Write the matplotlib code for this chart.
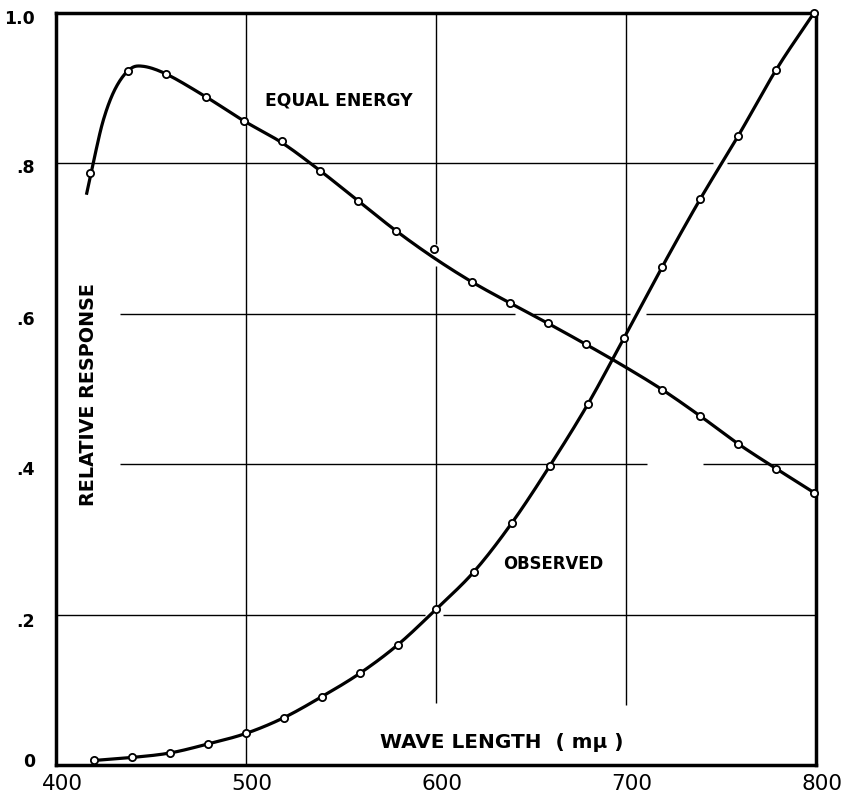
import numpy as np
import matplotlib
matplotlib.use("Agg")
import matplotlib.pyplot as plt
from matplotlib import font_manager
from matplotlib.transforms import ScaledTranslation

# ---------------- data ----------------
wl_equal = [418, 438, 458, 479, 499, 519, 539, 559, 579, 599,
            619, 639, 659, 679, 719, 739, 759, 779, 799]
resp_equal = [0.787, 0.923, 0.9185, 0.888, 0.856, 0.829, 0.790, 0.750, 0.710, 0.686,
              0.642, 0.614, 0.587, 0.559, 0.499, 0.464, 0.427, 0.394, 0.362]

# the drawn (faired) equal-energy curve, read along the line itself
wl_equal_curve = [416, 420, 425, 431, 438, 445, 458, 479, 499, 519, 539, 559, 579,
                  599, 619, 639, 659, 679, 699, 719, 739, 759, 779, 799]
resp_equal_curve = [0.758, 0.805, 0.858, 0.898, 0.923, 0.929, 0.9185, 0.888, 0.856,
                    0.827, 0.790, 0.750, 0.710, 0.674, 0.642, 0.614, 0.587, 0.559,
                    0.530, 0.499, 0.464, 0.427, 0.394, 0.362]

wl_observed = [420, 440, 460, 480, 500, 520, 540, 560, 580, 600,
               620, 640, 660, 680, 699, 719, 739, 759, 779, 799]
resp_observed = [0.006, 0.010, 0.016, 0.028, 0.042, 0.063, 0.091, 0.122, 0.160, 0.207,
                 0.257, 0.322, 0.398, 0.480, 0.568, 0.662, 0.752, 0.836, 0.924, 1.000]

x_ticks = [400, 500, 600, 700, 800]
x_tick_labels = ["400", "500", "600", "700", "800"]
y_ticks = [0, 0.2, 0.4, 0.6, 0.8, 1.0]
y_tick_labels = ["0", ".2", ".4", ".6", ".8", "1.0"]

label_equal = "EQUAL ENERGY"
label_observed = "OBSERVED"
x_title = "WAVE LENGTH  ( m\u03bc )"
y_title = "RELATIVE RESPONSE"


def catmull_rom(x, y, n=16):
    p = np.column_stack([np.asarray(x, float), np.asarray(y, float)])
    ext = np.vstack([2 * p[0] - p[1], p, 2 * p[-1] - p[-2]])
    t = np.linspace(0, 1, n, endpoint=False)[:, None]
    out = []
    for i in range(1, len(ext) - 2):
        p0, p1, p2, p3 = ext[i - 1], ext[i], ext[i + 1], ext[i + 2]
        out.append(0.5 * (2 * p1 + (-p0 + p2) * t
                          + (2 * p0 - 5 * p1 + 4 * p2 - p3) * t ** 2
                          + (-p0 + 3 * p1 - 3 * p2 + p3) * t ** 3))
    out.append(p[-1:])
    pts = np.vstack(out)
    return pts[:, 0], pts[:, 1]


plt.rcParams["font.family"] = ["DejaVu Sans"]
W, H = 850, 794
fig = plt.figure(figsize=(W / 100, H / 100), dpi=100)
ax = fig.add_axes([56 / W, 29 / H, 760 / W, 752.3 / H])
ax.set_xlim(400, 800)
ax.set_ylim(0, 1.0)

# ---------------- hand-drafted grid (with its breaks) ----------------
grid_h = {0.2: [(400, 594), (603.5, 800)],
          0.4: [(433.7, 711), (740.5, 800)],
          0.6: [(433.7, 641.6), (651, 702), (710.5, 800)],
          0.8: [(400, 745.8), (753.2, 800)]}
grid_v = {500: [(0.0, 1.0)],
          600: [(0.0824, 0.663), (0.693, 1.0)],
          700: [(0.0797, 1.0)]}
for yv, segs in grid_h.items():
    for a, b in segs:
        ax.hlines(yv, a, b, color="black", lw=1.0, zorder=1)
for xv, segs in grid_v.items():
    for a, b in segs:
        ax.vlines(xv, a, b, color="black", lw=1.0, zorder=1)

# ---------------- curves ----------------
cx, cy = catmull_rom(wl_equal_curve, resp_equal_curve)
ax.plot(cx, cy, color="black", lw=2.3, zorder=3, clip_on=False,
        solid_capstyle="butt")
ax.plot(wl_equal, resp_equal, ls="none", marker="o", ms=5.2, mfc="white",
        mec="black", mew=1.3, zorder=4, clip_on=False)

ox, oy = catmull_rom(wl_observed, resp_observed)
ax.plot(ox, oy, color="black", lw=2.3, zorder=3, clip_on=False,
        solid_capstyle="butt")
ax.plot(wl_observed, resp_observed, ls="none", marker="o", ms=5.2, mfc="white",
        mec="black", mew=1.3, zorder=4, clip_on=False)

# ---------------- frame and ticks ----------------
for s in ax.spines.values():
    s.set_linewidth(2.5)
ax.set_xticks(x_ticks)
ax.set_xticklabels(x_tick_labels, fontsize=15.5)
ax.set_yticks(y_ticks)
ax.set_yticklabels(y_tick_labels, fontsize=12.5, fontweight="bold")
ax.tick_params(axis="x", length=0, pad=6.5)
ax.tick_params(axis="y", length=0, pad=15)
for lbl in ax.get_xticklabels():
    lbl.set_transform(lbl.get_transform() + ScaledTranslation(6 / 100, 0, fig.dpi_scale_trans))
y_label_shift_px = [-5, 5, 4, 4, 3, 4]   # downward shift of each y label
for lbl, dy in zip(ax.get_yticklabels(), y_label_shift_px):
    lbl.set_transform(lbl.get_transform() + ScaledTranslation(0, -dy / 100, fig.dpi_scale_trans))

# ---------------- lettering ----------------
names = {f.name for f in font_manager.fontManager.ttflist}
if "Liberation Sans Narrow" in names:
    yfont = dict(family=["Liberation Sans Narrow", "DejaVu Sans"], fontsize=18, fontweight="bold")
else:
    yfont = dict(family=["DejaVu Sans"], fontsize=13.8, fontweight="bold")

fig.text(265 / W, 1 - 105 / H, label_equal, fontsize=12.3, fontweight="bold",
         ha="left", va="baseline")
fig.text(503 / W, 1 - 569.3 / H, label_observed, fontsize=11.9, fontweight="bold",
         ha="left", va="baseline")
fig.text(380 / W, 1 - 748 / H, x_title, fontsize=14.4, fontweight="bold",
         ha="left", va="baseline")
fig.text(88 / W, 1 - 394.5 / H, y_title, rotation=90, ha="center", va="center", **yfont)

fig.savefig("out.png", dpi=100, facecolor="white")
